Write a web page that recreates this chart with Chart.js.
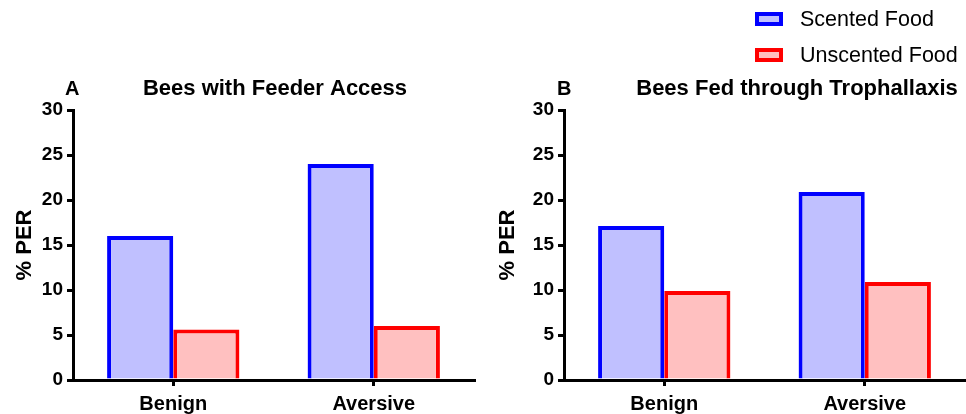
<!DOCTYPE html>
<html>
<head>
<meta charset="utf-8">
<script src="https://cdn.jsdelivr.net/npm/chart.js@4/dist/chart.umd.min.js"></script>
<style>
  html, body { margin: 0; padding: 0; background: #fff; }
  #wrap { position: relative; width: 966px; height: 414px; overflow: hidden; }
  .cv { position: absolute; top: 0; }
</style>
</head>
<body>
<div id="wrap">
  <div class="cv" style="left:0;width:483px;height:414px"><canvas id="cA"></canvas></div>
  <div class="cv" style="left:483px;width:483px;height:414px"><canvas id="cB"></canvas></div>
</div>
<script>
const categories = ["Benign", "Aversive"];
const seriesNames = ["Scented Food", "Unscented Food"];
const scentedA = [16.0, 24.0];
const unscentedA = [5.6, 6.0];
const scentedB = [17.1, 20.9];
const unscentedB = [9.9, 10.9];
const yTicks = [0, 5, 10, 15, 20, 25, 30];
const panelTitles = ["Bees with Feeder Access", "Bees Fed through Trophallaxis"];
const panelLetters = ["A", "B"];

const FONT = "'Liberation Sans', Arial, Helvetica, sans-serif";
const BLUE = "#0000FF", BLUE_FILL = "#C0C0FF";
const RED = "#FF0000", RED_FILL = "#FFC0C0";

function decor(letter, title, titleCenterX, letterX, withLegend) {
  return {
    id: 'decor' + letter,
    afterDraw(chart) {
      const ctx = chart.ctx;
      ctx.save();
      ctx.fillStyle = '#000';
      ctx.textBaseline = 'middle';
      ctx.font = "bold 20px " + FONT;
      ctx.textAlign = 'left';
      ctx.fillText(letter, letterX, 89);
      ctx.font = "bold 22px " + FONT;
      ctx.textAlign = 'center';
      ctx.fillText(title, titleCenterX, 89);
      if (withLegend) {
        const items = [[BLUE, BLUE_FILL, seriesNames[0], 19], [RED, RED_FILL, seriesNames[1], 55]];
        ctx.font = "21.5px " + FONT;
        ctx.textAlign = 'left';
        items.forEach(([bc, fc, txt, cy]) => {
          ctx.fillStyle = fc;
          ctx.fillRect(272, cy - 7, 28, 14);
          ctx.strokeStyle = bc;
          ctx.lineWidth = 4;
          ctx.strokeRect(274, cy - 5, 24, 10);
          ctx.fillStyle = '#000';
          ctx.fillText(txt, 317, cy + 1);
        });
      }
      ctx.restore();
    }
  };
}

function makeChart(id, scented, unscented, leftPad, yAxisWidth, rightPad, plugin) {
  return new Chart(document.getElementById(id), {
    type: 'bar',
    data: {
      labels: categories,
      datasets: [
        { label: seriesNames[0], data: scented, backgroundColor: BLUE_FILL, borderColor: BLUE, borderWidth: 4, borderSkipped: 'bottom' },
        { label: seriesNames[1], data: unscented, backgroundColor: RED_FILL, borderColor: RED, borderWidth: 4, borderSkipped: 'bottom' }
      ]
    },
    options: {
      responsive: true,
      maintainAspectRatio: false,
      animation: false,
      devicePixelRatio: 1,
      categoryPercentage: 0.66,
      barPercentage: 1.0,
      layout: { padding: { top: 110, left: leftPad, right: rightPad, bottom: 0 } },
      plugins: { legend: { display: false }, tooltip: { enabled: false }, title: { display: false } },
      scales: {
        x: {
          offset: true,
          grid: { display: true, drawOnChartArea: false, drawTicks: true, tickLength: 6, color: '#000', lineWidth: 3, offset: false },
          border: { display: true, color: '#000', width: 3 },
          ticks: { color: '#000', font: { family: FONT, size: 20, weight: 'bold' }, padding: 6 },
          afterFit: s => { s.height = 34; }
        },
        y: {
          min: 0, max: 30,
          afterBuildTicks: s => { s.ticks = yTicks.map(v => ({ value: v })); },
          grid: { display: true, drawOnChartArea: false, drawTicks: true, tickLength: 6, color: '#000', lineWidth: 3 },
          border: { display: true, color: '#000', width: 3 },
          ticks: { color: '#000', font: { family: FONT, size: 19, weight: 'bold' }, padding: 4 },
          title: { display: true, text: '% PER', color: '#000', font: { family: FONT, size: 22, weight: 'bold' }, padding: { top: 0, bottom: 0 } },
          afterFit: s => { s.width = yAxisWidth; }
        }
      }
    },
    plugins: [plugin]
  });
}

makeChart('cA', scentedA, unscentedA, 12, 61, 9, decor(panelLetters[0], panelTitles[0], 275, 65, false));
makeChart('cB', scentedB, unscentedB, 12, 69, 1, decor(panelLetters[1], panelTitles[1], 314, 74, true));
</script>
</body>
</html>
